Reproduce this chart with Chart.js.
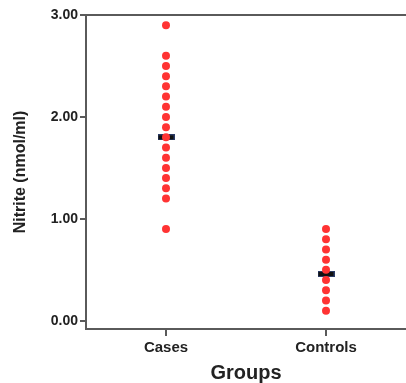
<!DOCTYPE html>
<html>
<head>
<meta charset="utf-8">
<script src="https://cdn.jsdelivr.net/npm/chart.js@4"></script>
<style>
  body { margin: 0; background: #fff; }
  #wrap { width: 406px; height: 383px; }
</style>
</head>
<body>
<div id="wrap"><canvas id="chart" width="406" height="383"></canvas></div>
<script>
let groups = ["Cases", "Controls"];
let casesValues = [2.9, 2.6, 2.5, 2.4, 2.3, 2.2, 2.1, 2.0, 1.9, 1.8, 1.7, 1.6, 1.5, 1.4, 1.3, 1.2, 0.9];
let controlsValues = [0.9, 0.8, 0.7, 0.6, 0.5, 0.4, 0.3, 0.2, 0.1];
let medianValues = [1.8, 0.46];
let yTicks = [0, 1, 2, 3];

let fontFamily = "'Liberation Sans', Arial, sans-serif";
let axisColor = "#5a5a5a";
let textColor = "#222";

// little black bar used as the median marker
let bar = document.createElement("canvas");
bar.width = 17;
bar.height = 6;
let bctx = bar.getContext("2d");
bctx.fillStyle = "#111";
bctx.fillRect(0, 0, 17, 6);
bctx.strokeStyle = "#2a3a66";
bctx.lineWidth = 1;
bctx.strokeRect(0.5, 0.5, 16, 5);

let points = [];
casesValues.forEach(v => points.push({ x: groups[0], y: v }));
controlsValues.forEach(v => points.push({ x: groups[1], y: v }));

let medians = medianValues.map((v, i) => ({ x: groups[i], y: v }));

const topLine = {
  id: "topLine",
  afterDraw(chart) {
    const { ctx, chartArea } = chart;
    ctx.save();
    ctx.strokeStyle = axisColor;
    ctx.lineWidth = 2;
    ctx.beginPath();
    ctx.moveTo(chartArea.left - 1, chartArea.top);
    ctx.lineTo(chartArea.right, chartArea.top);
    ctx.stroke();
    ctx.restore();
  }
};

new Chart("chart", {
  type: "scatter",
  data: {
    labels: groups,
    datasets: [{
      data: points,
      pointRadius: 4,
      pointHoverRadius: 4,
      pointBorderWidth: 0,
      backgroundColor: "rgb(255,51,51)",
      borderColor: "rgb(255,51,51)",
      order: 0
    }, {
      data: medians,
      pointStyle: bar,
      pointRadius: 8,
      order: 1
    }]
  },
  options: {
    responsive: false,
    animation: false,
    layout: { autoPadding: false, padding: { top: 15, right: 0, left: 0, bottom: 0 } },
    plugins: {
      legend: { display: false },
      tooltip: { enabled: false }
    },
    scales: {
      x: {
        type: "category",
        labels: groups,
        offset: true,
        grid: {
          drawOnChartArea: false,
          drawTicks: true,
          tickLength: 7,
          color: axisColor,
          lineWidth: 2
        },
        border: { display: true, color: axisColor, width: 2 },
        ticks: {
          color: textColor,
          padding: 3,
          font: { family: fontFamily, size: 15, weight: "bold" }
        },
        title: {
          display: true,
          text: "Groups",
          color: textColor,
          padding: 0,
          font: { family: fontFamily, size: 20, weight: "bold", lineHeight: 1 }
        },
        afterFit(scale) { scale.height = 54; }
      },
      y: {
        min: -0.08,
        max: 3.0,
        afterBuildTicks(scale) {
          scale.ticks = yTicks.map(v => ({ value: v }));
        },
        grid: {
          drawOnChartArea: false,
          drawTicks: true,
          tickLength: 6,
          color: axisColor,
          lineWidth: 2
        },
        border: { display: true, color: axisColor, width: 2 },
        ticks: {
          color: textColor,
          padding: 2,
          font: { family: fontFamily, size: 14, weight: "bold" },
          callback: v => v.toFixed(2)
        },
        title: {
          display: true,
          text: "Nitrite (nmol/ml)",
          color: textColor,
          padding: { top: 11, bottom: 0 },
          font: { family: fontFamily, size: 16, weight: "bold" }
        },
        afterFit(scale) { scale.width = 86; }
      }
    }
  },
  plugins: [topLine]
});
</script>
</body>
</html>
